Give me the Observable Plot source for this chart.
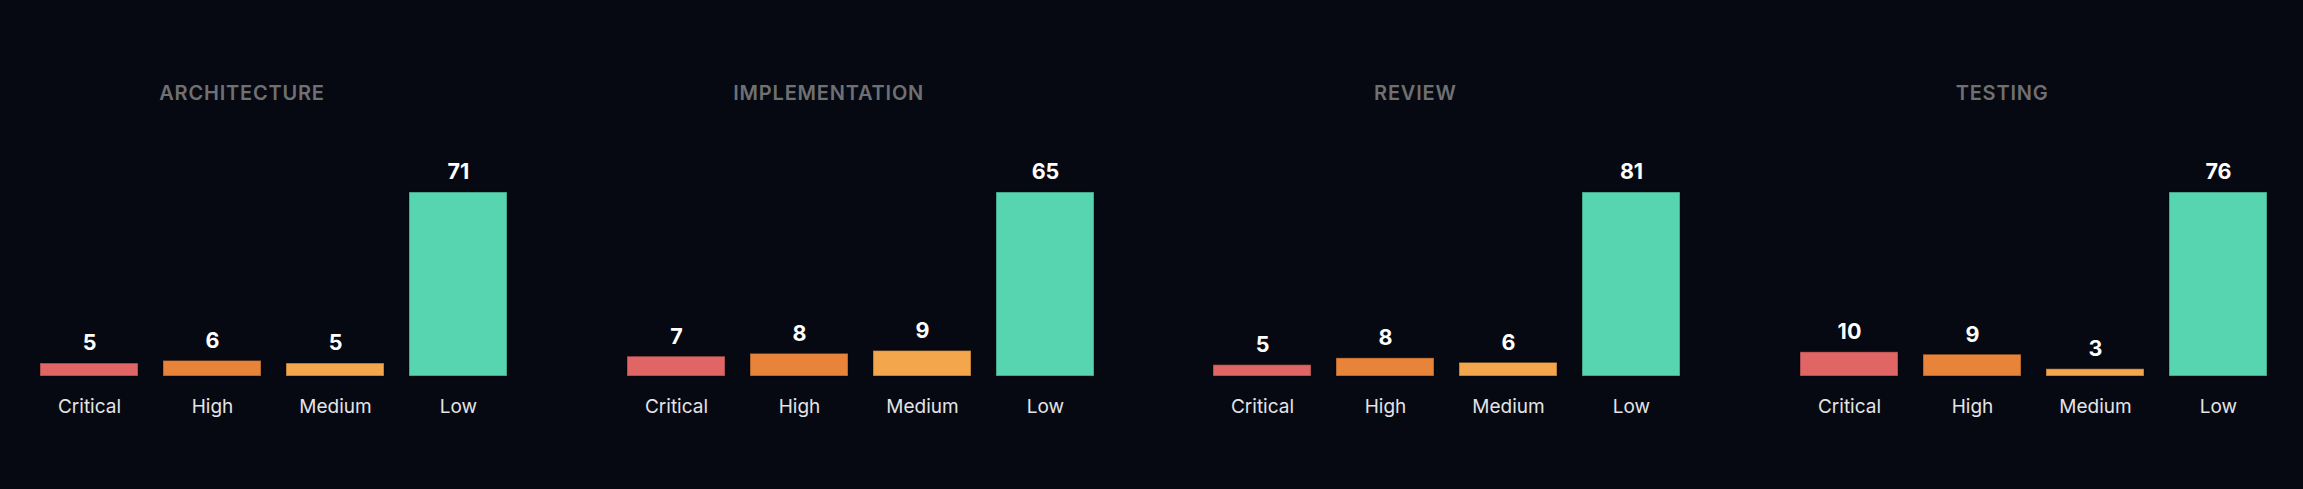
<!DOCTYPE html>
<html>
<head>
<meta charset="utf-8">
<script src="https://cdn.jsdelivr.net/npm/d3@7"></script>
<script src="https://cdn.jsdelivr.net/npm/@observablehq/plot@0.6"></script>
<style>
  html, body { margin: 0; padding: 0; background: #060911; }
  #root { position: relative; width: 2303px; height: 489px; background: #060911; overflow: hidden; font-family: Inter, "Noto Sans", sans-serif; }
  .panel { position: absolute; top: 0; width: 518px; height: 489px; }
  .panel svg { position: absolute; left: 0; top: 0; }
  .title { position: absolute; top: 83px; font-size: 20px; line-height: 20px; font-weight: 600; letter-spacing: 0.04em; color: #6f7072; white-space: nowrap; transform: translateX(-50%); }
</style>
</head>
<body>
<div id="root"></div>
<script>
const phases = ["ARCHITECTURE", "IMPLEMENTATION", "REVIEW", "TESTING"];
const severities = ["Critical", "High", "Medium", "Low"];
const architecture = [5, 6, 5, 71];
const implementation = [7, 8, 9, 65];
const review = [5, 8, 6, 81];
const testing = [10, 9, 3, 76];
const severityColors = ["#e06666", "#e8843a", "#f4a64c", "#56d5b0"];

const seriesByPhase = [architecture, implementation, review, testing];
const root = document.getElementById("root");

const panelWidth = 518;
const panelStart = 15;
const panelStep = 586.7;

phases.forEach((phase, i) => {
  const rows = severities.map((s, j) => ({severity: s, value: seriesByPhase[i][j]}));
  const panel = document.createElement("div");
  panel.className = "panel";
  panel.style.left = (panelStart + panelStep * i) + "px";

  const chart = Plot.plot({
    width: panelWidth,
    height: 489,
    marginTop: 192,
    marginBottom: 113,
    marginLeft: 0,
    marginRight: 0,
    style: {background: "transparent", fontFamily: "Inter, 'Noto Sans', sans-serif", overflow: "visible"},
    x: {domain: severities, padding: 0.2, label: null},
    y: {axis: null, label: null},
    color: {domain: severities, range: severityColors},
    marks: [
      Plot.barY(rows, {x: "severity", y: "value", fill: "severity", stroke: "#000", strokeOpacity: 0.35, strokeWidth: 1.2, inset: 0}),
      Plot.text(rows, {x: "severity", y: "value", text: d => String(d.value), fill: "#ffffff", fontSize: 21.5, fontWeight: 700, lineAnchor: "middle", dy: -20}),
      Plot.axisX({tickSize: 0, tickPadding: 23, fontSize: 19, fill: "#e4e4e6", label: null})
    ]
  });
  panel.appendChild(chart);

  const title = document.createElement("div");
  title.className = "title";
  title.textContent = phase;
  title.style.left = "227px";
  panel.appendChild(title);

  root.appendChild(panel);
});
</script>
</body>
</html>
